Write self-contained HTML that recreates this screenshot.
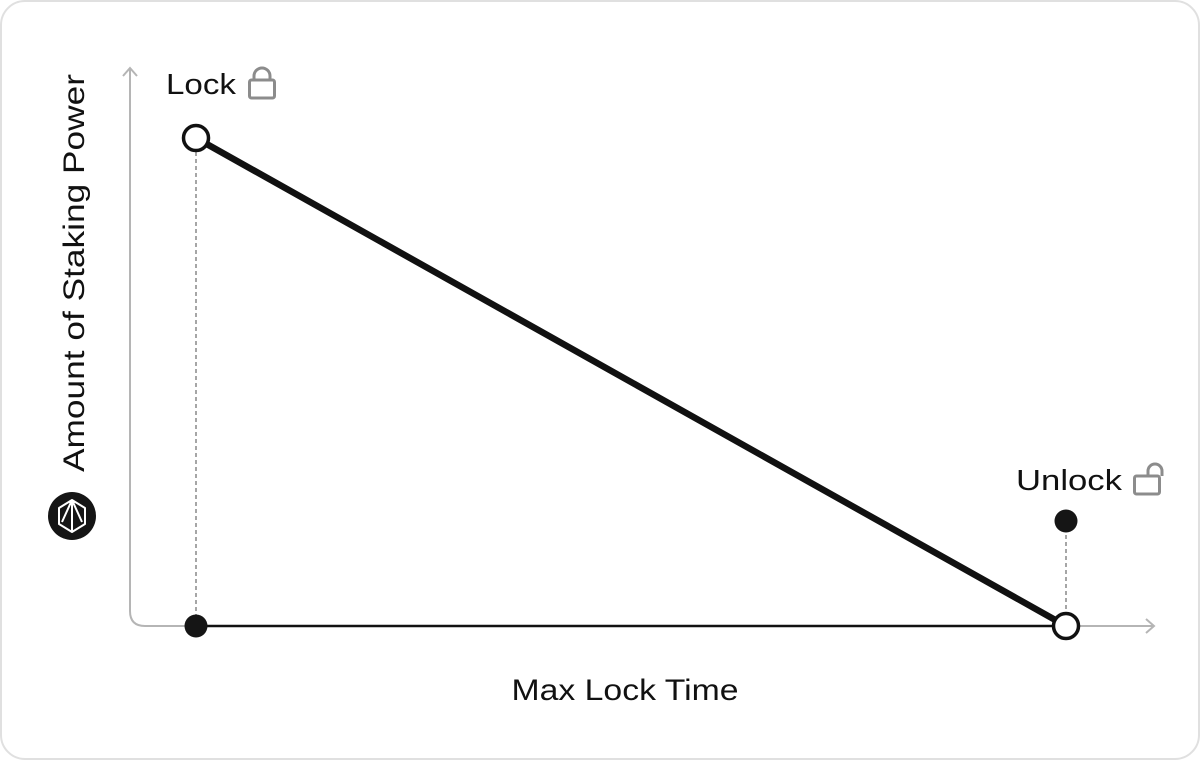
<!DOCTYPE html>
<html><head><meta charset="utf-8"><style>
html,body{margin:0;padding:0;background:#fff;}
svg{display:block;font-family:"Liberation Sans",sans-serif;}
</style></head><body>
<svg width="1200" height="760" viewBox="0 0 1200 760">
<rect x="1" y="1" width="1198" height="758" rx="24" fill="#fff" stroke="#e0e0e0" stroke-width="2"/>
<g id="axes">
<path d="M130 68 V611 Q130 626 145 626 H1153" fill="none" stroke="#b5b5b5" stroke-width="2"/>
<path d="M123 76 L130 68 L137 76" fill="none" stroke="#b5b5b5" stroke-width="2"/>
<path d="M1146 619 L1154 626 L1146 633" fill="none" stroke="#b5b5b5" stroke-width="2"/>
</g>
<text x="625" y="700" font-size="30" fill="#111" text-anchor="middle" textLength="227" lengthAdjust="spacingAndGlyphs">Max Lock Time</text>
<text transform="translate(84,273) rotate(-90)" font-size="30" fill="#111" text-anchor="middle" textLength="398" lengthAdjust="spacingAndGlyphs">Amount of Staking Power</text>
<g>
<circle cx="72" cy="516" r="24" fill="#151515"/>
<path d="M72 500 L85 508 L85 524 L72 532 L59 524 L59 508 Z M72 500 L72 532 M72 500 L62 522 M72 500 L82 522" fill="none" stroke="#fff" stroke-width="2" stroke-linejoin="round"/>
</g>
<g id="plot"></g>
<text x="166" y="94" font-size="29" fill="#111" textLength="70" lengthAdjust="spacingAndGlyphs">Lock</text>
<g fill="none" stroke="#8c8c8c" stroke-width="3">
<rect x="249.5" y="80" width="25" height="18" rx="2"/>
<path d="M254 80 V76 A8 8 0 0 1 270 76 V80"/>
</g>
<text x="1016" y="490" font-size="29" fill="#111" textLength="106" lengthAdjust="spacingAndGlyphs">Unlock</text>
<g fill="none" stroke="#8c8c8c" stroke-width="3">
<rect x="1134.5" y="476" width="25" height="18" rx="2"/>
<path d="M1148 476 V471 A7 7 0 0 1 1162 471 V476"/>
</g>
</svg>
<script>
const timePoints = [0, 1];
const powerValues = [1, 0];
const xScale = v => 196 + v * (1066 - 196);
const yScale = v => 626 - v * (626 - 138);
const NS = "http://www.w3.org/2000/svg";
const plot = document.getElementById('plot');
function mk(tag, attrs){const e=document.createElementNS(NS,tag);for(const k in attrs)e.setAttribute(k,attrs[k]);plot.appendChild(e);return e;}
// baseline
const base = mk('line',{x1:xScale(timePoints[0]),y1:yScale(0),x2:xScale(timePoints[timePoints.length-1]),y2:yScale(0),stroke:'#111','stroke-width':2.5});


// dashed guides
timePoints.forEach((t,i)=>{
  const yTop = i===0 ? yScale(powerValues[i]) : 521;
  const g = mk('line',{x1:xScale(t),y1:yTop,x2:xScale(t),y2:yScale(0),stroke:'#888','stroke-width':1.5,'stroke-dasharray':'4 3'});
  
  
});
// main line
const pts = timePoints.map((t,i)=>xScale(t)+','+yScale(powerValues[i])).join(' ');
const line = mk('polyline',{points:pts,fill:'none',stroke:'#111','stroke-width':6.5,'stroke-linecap':'round'});


// filled dots
const d1 = mk('circle',{cx:xScale(timePoints[0]),cy:yScale(0),r:11.5,fill:'#151515'});


const d2 = mk('circle',{cx:xScale(timePoints[1]),cy:521,r:11.5,fill:'#151515'});


// open points
timePoints.forEach((t,i)=>{
  const c = mk('circle',{cx:xScale(t),cy:yScale(powerValues[i]),r:12.5,fill:'#fff',stroke:'#111','stroke-width':3.5});
  
  
});
</script>
</body></html>
